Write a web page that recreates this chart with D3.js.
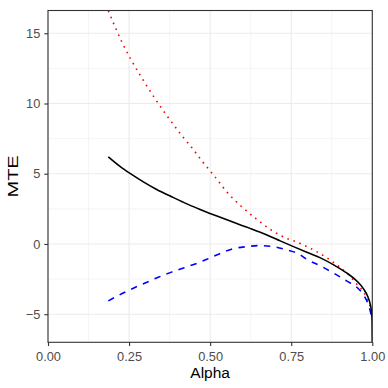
<!DOCTYPE html>
<html>
<head>
<meta charset="utf-8">
<script src="https://cdn.jsdelivr.net/npm/d3@7"></script>
<style>
  body { margin: 0; background: #fff; }
  text { font-family: "Liberation Sans", Arial, Helvetica, sans-serif; }
</style>
</head>
<body>
<script>
// MTE curve (solid black)
var mteAlpha = [0.186, 0.222, 0.253, 0.294, 0.335, 0.377, 0.418, 0.469, 0.521, 0.572, 0.623, 0.675, 0.716, 0.757, 0.798, 0.840, 0.881, 0.922, 0.953, 0.973, 0.986, 0.994, 0.998, 0.9995, 1.0];
var mteValue = [6.20, 5.52, 5.02, 4.42, 3.88, 3.41, 2.96, 2.46, 1.99, 1.54, 1.11, 0.64, 0.22, -0.19, -0.59, -0.99, -1.49, -2.08, -2.65, -3.20, -3.74, -4.33, -4.92, -5.6, -7.0];

// upper curve (red dotted)
var upperAlpha = [0.186, 0.228, 0.256, 0.287, 0.320, 0.353, 0.389, 0.414, 0.440, 0.476, 0.515, 0.552, 0.594, 0.640, 0.690, 0.743, 0.761, 0.800, 0.837, 0.873, 0.904, 0.932, 0.956, 0.974, 0.985, 0.993, 0.998];
var upperValue = [16.6, 14.37, 13.12, 11.91, 10.70, 9.57, 8.43, 7.67, 6.96, 5.87, 4.78, 3.69, 2.72, 1.83, 0.97, 0.33, 0.19, -0.21, -0.66, -1.19, -1.73, -2.32, -2.96, -3.46, -3.95, -4.4, -5.0];

// lower curve (blue dashed)
var lowerAlpha = [0.186, 0.227, 0.263, 0.305, 0.340, 0.377, 0.413, 0.454, 0.490, 0.526, 0.572, 0.613, 0.649, 0.695, 0.737, 0.773, 0.798, 0.840, 0.881, 0.922, 0.953, 0.973, 0.986, 0.993, 0.998];
var lowerValue = [-4.05, -3.55, -3.15, -2.72, -2.37, -2.04, -1.75, -1.42, -1.09, -0.73, -0.33, -0.19, -0.12, -0.19, -0.43, -0.71, -1.09, -1.56, -2.08, -2.65, -3.10, -3.62, -4.21, -4.7, -5.2];

var xTicks = [0, 0.25, 0.5, 0.75, 1];
var xMinor = [0.125, 0.375, 0.625, 0.875];
var yTicks = [-5, 0, 5, 10, 15];
var yMinor = [-2.5, 2.5, 7.5, 12.5];

var W = 388, H = 388;
var pLeft = 48, pRight = 372.3, pTop = 10.5, pBottom = 342.3;

var svg = d3.select("body").append("svg")
            .attr("width", W)
            .attr("height", H)

var x = d3.scaleLinear().domain([0, 1]).range([pLeft, pRight]);
var y = d3.scaleLinear().domain([-7, 16.62]).range([pBottom, pTop]);

// grid: minor first, then major
var grid = svg.append("g");
grid.selectAll(".xmin").data(xMinor).enter().append("line")
    .attr("x1", d => x(d)).attr("x2", d => x(d))
    .attr("y1", pTop).attr("y2", pBottom)
    .attr("stroke", "#EBEBEB").attr("stroke-width", 0.55)
grid.selectAll(".ymin").data(yMinor).enter().append("line")
    .attr("x1", pLeft).attr("x2", pRight)
    .attr("y1", d => y(d)).attr("y2", d => y(d))
    .attr("stroke", "#EBEBEB").attr("stroke-width", 0.55)
grid.selectAll(".xmaj").data(xTicks).enter().append("line")
    .attr("x1", d => x(d)).attr("x2", d => x(d))
    .attr("y1", pTop).attr("y2", pBottom)
    .attr("stroke", "#EBEBEB").attr("stroke-width", 1.1)
grid.selectAll(".ymaj").data(yTicks).enter().append("line")
    .attr("x1", pLeft).attr("x2", pRight)
    .attr("y1", d => y(d)).attr("y2", d => y(d))
    .attr("stroke", "#EBEBEB").attr("stroke-width", 1.1)

svg.append("clipPath").attr("id", "panel")
  .append("rect")
    .attr("x", pLeft).attr("y", pTop)
    .attr("width", pRight - pLeft).attr("height", pBottom - pTop)

var line = d3.line()
    .x(d => x(d[0]))
    .y(d => y(d[1]))
    .curve(d3.curveMonotoneX);

var lines = svg.append("g").attr("clip-path", "url(#panel)");

lines.append("path")
    .datum(d3.zip(upperAlpha, upperValue))
    .attr("d", line)
    .attr("fill", "none")
    .attr("stroke", "#FF0000")
    .attr("stroke-width", 1.6)
    .attr("stroke-dasharray", "1.6,4.8")

lines.append("path")
    .datum(d3.zip(lowerAlpha, lowerValue))
    .attr("d", line)
    .attr("fill", "none")
    .attr("stroke", "#0000FF")
    .attr("stroke-width", 1.6)
    .attr("stroke-dasharray", "6.4,6.4")

lines.append("path")
    .datum(d3.zip(mteAlpha, mteValue))
    .attr("d", line)
    .attr("fill", "none")
    .attr("stroke", "#000000")
    .attr("stroke-width", 1.6)

// panel border
svg.append("rect")
    .attr("x", pLeft).attr("y", pTop)
    .attr("width", pRight - pLeft).attr("height", pBottom - pTop)
    .attr("fill", "none")
    .attr("stroke", "#333333")
    .attr("stroke-width", 1.1)

// axes
var xAxis = svg.append("g")
    .attr("transform", "translate(0," + pBottom + ")")
    .call(d3.axisBottom(x).tickValues(xTicks).tickFormat(d3.format(".2f")).tickSize(3.7).tickSizeOuter(0).tickPadding(5.5));
var yAxis = svg.append("g")
    .attr("transform", "translate(" + pLeft + ",0)")
    .call(d3.axisLeft(y).tickValues(yTicks).tickFormat(d => d < 0 ? "\u2212" + Math.abs(d) : d).tickSize(3.7).tickSizeOuter(0).tickPadding(4));

[xAxis, yAxis].forEach(function (g) {
  g.select(".domain").remove();
  g.selectAll(".tick line").attr("stroke", "#333333").attr("stroke-width", 1.1);
  g.selectAll(".tick text")
    .attr("fill", "#4D4D4D")
    .style("font-size", "12.8px")
    .style("font-family", "'Liberation Sans', Arial, sans-serif");
});

// axis titles
svg.append("text")
    .attr("x", (pLeft + pRight) / 2)
    .attr("y", 378)
    .attr("text-anchor", "middle")
    .attr("fill", "#000")
    .style("font-size", "15.5px")
    .text("Alpha")

svg.append("text")
    .attr("transform", "translate(17.5," + ((pTop + pBottom) / 2) + ") rotate(-90)")
    .attr("text-anchor", "middle")
    .attr("fill", "#000")
    .attr("textLength", 42)
    .attr("lengthAdjust", "spacingAndGlyphs")
    .style("font-size", "14.5px")
    .text("MTE")
</script>
</body>
</html>
